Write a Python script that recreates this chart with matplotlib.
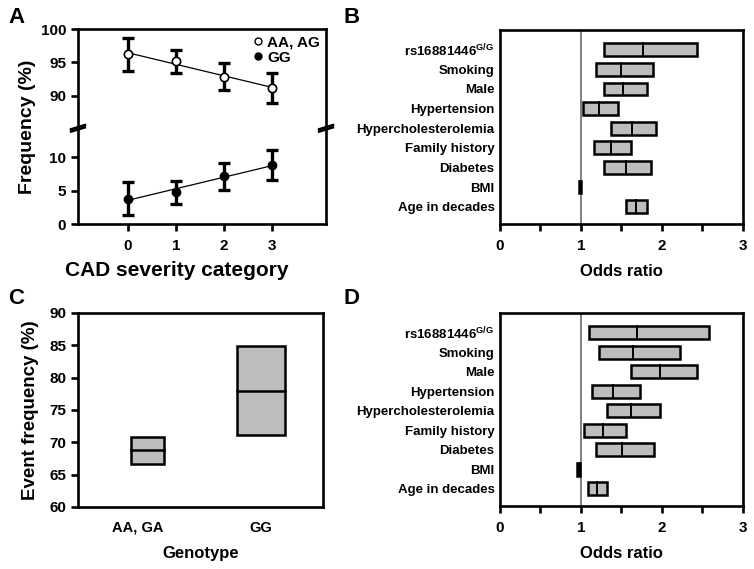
import numpy as np
import matplotlib
matplotlib.use("Agg")
import matplotlib.pyplot as plt
import matplotlib.transforms as mtransforms
from matplotlib.lines import Line2D
from matplotlib.patches import Rectangle

plt.rcParams['font.family'] = ['Liberation Sans', 'DejaVu Sans']
plt.rcParams['font.weight'] = 'bold'
plt.rcParams['mathtext.fontset'] = 'custom'
plt.rcParams['mathtext.rm'] = 'Liberation Sans'
plt.rcParams['mathtext.bf'] = 'Liberation Sans:bold'

# ---- data ----
# panel A: genotype frequency by CAD severity
cad_category = [0, 1, 2, 3]
aa_mean = [96.2, 95.15, 92.9, 91.2]
aa_lo = [93.8, 93.4, 90.9, 89.0]
aa_hi = [98.7, 96.9, 94.9, 93.4]
gg_mean = [3.8, 4.85, 7.1, 8.8]
gg_lo = [1.3, 3.0, 5.1, 6.6]
gg_hi = [6.3, 6.5, 9.1, 11.0]

# panel B / D: odds ratios (top row first)
risk_factors = [r'rs16881446$^{\mathbf{G/G}}$', 'Smoking', 'Male', 'Hypertension',
                'Hypercholesterolemia', 'Family history', 'Diabetes', 'BMI',
                'Age in decades']
b_or = [1.77, 1.50, 1.52, 1.22, 1.63, 1.37, 1.55, 0.985, 1.68]
b_lo = [1.28, 1.18, 1.28, 1.03, 1.37, 1.16, 1.29, 0.97, 1.56]
b_hi = [2.43, 1.89, 1.81, 1.46, 1.93, 1.62, 1.87, 1.00, 1.82]
d_or = [1.69, 1.64, 1.97, 1.40, 1.62, 1.27, 1.51, 0.97, 1.20]
d_lo = [1.10, 1.22, 1.62, 1.13, 1.32, 1.04, 1.19, 0.95, 1.09]
d_hi = [2.58, 2.22, 2.43, 1.73, 1.98, 1.55, 1.90, 0.99, 1.32]

# panel C: event frequency by genotype
genotypes = ['AA, GA', 'GG']
event_mid = [68.8, 78.0]
event_lo = [66.7, 71.1]
event_hi = [70.8, 84.9]

GRAY = '#bdbdbd'
SPINE_W = 1.9

fig = plt.figure(figsize=(7.54, 5.69), dpi=100)


def style_spines(ax, w=SPINE_W):
    for s in ax.spines.values():
        s.set_linewidth(w)
    ax.tick_params(width=w, length=5, direction='out', labelsize=11)
    ax.tick_params(axis='x', pad=6)


# ---- panel A ----
x = np.array(cad_category)
ax_top = fig.add_axes([0.1034, 0.7808, 0.329, 0.1682])
ax_bot = fig.add_axes([0.1034, 0.6063, 0.329, 0.1682])
for ax in (ax_top, ax_bot):
    style_spines(ax)
    ax.set_xlim(-1.04, 4.12)

ax_top.set_ylim(85.7, 100)
ax_bot.set_ylim(0, 14.3)
ax_top.set_yticks([90, 95, 100])
ax_bot.set_yticks([0, 5, 10])
ax_top.spines['bottom'].set_visible(False)
ax_bot.spines['top'].set_visible(False)
ax_top.tick_params(axis='x', bottom=False, labelbottom=False)
ax_bot.set_xticks(cad_category)

# AA, AG
aa = np.array(aa_mean)
ax_top.errorbar(x, aa, yerr=[aa - np.array(aa_lo), np.array(aa_hi) - aa],
                fmt='none', ecolor='black', elinewidth=2.4, capsize=4, capthick=2.4)
fit = np.polyfit(x, aa, 1)
ax_top.plot(x, np.polyval(fit, x), color='black', lw=0.9, zorder=3)
ax_top.plot(x, aa, 'o', mfc='white', mec='black', mew=1.2, ms=6, zorder=4)

# GG
gg = np.array(gg_mean)
ax_bot.errorbar(x, gg, yerr=[gg - np.array(gg_lo), np.array(gg_hi) - gg],
                fmt='none', ecolor='black', elinewidth=2.4, capsize=4, capthick=2.4)
fit = np.polyfit(x, gg, 1)
ax_bot.plot(x, np.polyval(fit, x), color='black', lw=0.9, zorder=3)
ax_bot.plot(x, gg, 'o', mfc='black', mec='black', ms=6, zorder=4)

# break marks
for xb in (0, 1):
    for dy in (-0.012, 0.012):
        ax_bot.plot([xb - 0.028, xb + 0.028], [1.0 + dy - 0.022, 1.0 + dy + 0.022],
                    transform=ax_bot.transAxes, color='black', lw=1.8, clip_on=False)

handles = [Line2D([], [], ls='none', marker='o', mfc='white', mec='black', ms=5),
           Line2D([], [], ls='none', marker='o', mfc='black', mec='black', ms=5)]
ax_top.legend(handles, ['AA, AG', 'GG'], loc='upper right', frameon=False,
              prop={'size': 11, 'weight': 'bold'}, handlelength=0.6,
              handletextpad=0.3, labelspacing=0.1, borderaxespad=0.0)

ax_bot.set_xlabel('CAD severity category', fontsize=15, fontweight='bold')
ax_bot.xaxis.set_label_coords(0.40, -0.39)
fig.text(0.037, 0.6063 + 0.1714, 'Frequency (%)', rotation=90, fontsize=14,
         fontweight='bold', ha='center', va='center')


# ---- panels B and D ----
def odds_panel(rect, ors, los, his):
    ax = fig.add_axes(rect)
    style_spines(ax)
    ypos = np.arange(len(risk_factors))[::-1] + 1
    h = 0.65
    for y, o, lo, hi in zip(ypos, ors, los, his):
        ax.add_patch(Rectangle((lo, y - h / 2), hi - lo, h, facecolor=GRAY,
                               edgecolor='black', lw=1.8, zorder=3))
        ax.plot([o, o], [y - h / 2, y + h / 2], color='black', lw=1.4, zorder=4)
    ax.axvline(1, color='#808080', lw=1.4, zorder=2)
    ax.set_xlim(0, 3)
    ax.set_ylim(0.12, 10.0)
    ax.set_xticks([0, 1, 2, 3])
    ax.set_xticks([0.5, 1.5, 2.5], minor=True)
    ax.tick_params(axis='x', which='minor', width=SPINE_W, length=5)
    ax.set_yticks(ypos)
    ax.set_yticklabels(risk_factors, fontsize=9.5)
    ax.tick_params(axis='y', length=0, pad=4)
    ax.set_xlabel('Odds ratio', fontsize=12, fontweight='bold', labelpad=8)
    return ax


odds_panel([0.6631, 0.6063, 0.3223, 0.341], b_or, b_lo, b_hi)
odds_panel([0.6631, 0.1107, 0.3223, 0.339], d_or, d_lo, d_hi)

# ---- panel C ----
axc = fig.add_axes([0.1034, 0.109, 0.325, 0.341])
style_spines(axc)
box_widths = [0.29, 0.43]
for i, (m, lo, hi) in enumerate(zip(event_mid, event_lo, event_hi)):
    w = box_widths[i]
    axc.add_patch(Rectangle((i - w / 2, lo), w, hi - lo, facecolor=GRAY,
                            edgecolor='black', lw=1.8, zorder=3))
    axc.plot([i - w / 2, i + w / 2], [m, m], color='black', lw=1.8, zorder=4)
axc.set_xlim(-0.61, 1.545)
axc.set_ylim(60, 90)
axc.set_yticks(range(60, 91, 5))
axc.set_xticks(range(len(genotypes)))
axc.set_xticklabels(genotypes, fontsize=10.5)
axc.tick_params(axis='x', length=0, pad=10)
# the first genotype label sits a little left of its box in the original
lbl = axc.get_xticklabels()[0]
lbl.set_transform(lbl.get_transform() +
                  mtransforms.ScaledTranslation(-10 / 100, 0, fig.dpi_scale_trans))
axc.set_xlabel('Genotype', fontsize=12, fontweight='bold', labelpad=8)
axc.set_ylabel('Event frequency (%)', fontsize=13.5, fontweight='bold', labelpad=7)

# panel letters
for lx, ly, s in [(0.011, 0.97, 'A'), (0.455, 0.97, 'B'),
                  (0.011, 0.475, 'C'), (0.455, 0.475, 'D')]:
    fig.text(lx, ly, s, fontsize=16, fontweight='bold', va='center')

fig.savefig('out.png', dpi=100)
